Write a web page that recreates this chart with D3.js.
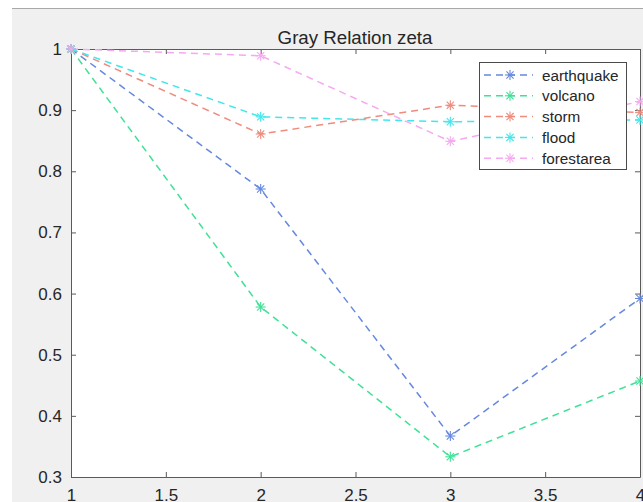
<!DOCTYPE html>
<html>
<head>
<meta charset="utf-8">
<script src="https://cdn.jsdelivr.net/npm/d3@7"></script>
<style>
  body { margin:0; background:#fff; }
  text { font-family: "Liberation Sans", Arial, sans-serif; fill:#262626; }
</style>
</head>
<body>
<div class="chart"></div>
<script>
// data
const xValues = [1, 2, 3, 4];
const seriesNames = ["earthquake", "volcano", "storm", "flood", "forestarea"];
const earthquake = [1, 0.771, 0.367, 0.592];
const volcano = [1, 0.578, 0.333, 0.457];
const storm = [1, 0.861, 0.908, 0.896];
const flood = [1, 0.889, 0.881, 0.884];
const forestarea = [1, 0.989, 0.849, 0.914];
const xTicks = [1, 1.5, 2, 2.5, 3, 3.5, 4];
const yTicks = [0.3, 0.4, 0.5, 0.6, 0.7, 0.8, 0.9, 1];

function draw(){
    const series = [earthquake, volcano, storm, flood, forestarea];
    const colors = ["#6688df", "#3fe196", "#ee8c7e", "#40e8ec", "#f6a8f1"];

    const margin = {top:49, left:71, right:3, bottom:25};
    const width = 643 - margin.left - margin.right,
        height = 502 - margin.top - margin.bottom;

    const root = d3.select('.chart').append('svg')
        .attr("width", 643)
        .attr("height", 502);

    // figure background
    root.append("rect")
        .attr("x", 12).attr("y", 8)
        .attr("width", 643 - 12).attr("height", 502 - 8)
        .attr("fill", "#f0f0f0");
    root.append("line")
        .attr("x1", 12).attr("x2", 643)
        .attr("y1", 8.5).attr("y2", 8.5)
        .attr("stroke", "#a8a8a8");

    const svg = root.append("g")
        .attr("transform", "translate(" + margin.left + "," + margin.top + ")");

    svg.append("rect")
        .attr("width", width).attr("height", height)
        .attr("fill", "#fff");

    const xScale = d3.scaleLinear()
        .domain([1, 4])
        .range([0, width]);

    const yScale = d3.scaleLinear()
        .domain([0.3, 1])
        .range([height, 0]);

    const fmt = d => d3.format("")(d);

    // axes with inside ticks, like matlab
    const xAxis = d3.axisBottom(xScale).tickValues(xTicks).tickFormat(fmt)
        .tickSizeInner(-5).tickSizeOuter(0).tickPadding(12);
    const yAxis = d3.axisLeft(yScale).tickValues(yTicks).tickFormat(fmt)
        .tickSizeInner(-5).tickSizeOuter(0).tickPadding(9);
    const xTop = d3.axisTop(xScale).tickValues(xTicks).tickFormat("")
        .tickSizeInner(-5).tickSizeOuter(0);
    const yRight = d3.axisRight(yScale).tickValues(yTicks).tickFormat("")
        .tickSizeInner(-5).tickSizeOuter(0);

    const axes = [
        svg.append("g").attr("class", "axis x-axis")
            .attr("transform", `translate(0, ${height})`).call(xAxis),
        svg.append("g").attr("class", "axis y-axis").call(yAxis),
        svg.append("g").attr("class", "axis").call(xTop),
        svg.append("g").attr("class", "axis")
            .attr("transform", `translate(${width},0)`).call(yRight)
    ];
    axes.forEach(a => {
        a.selectAll("path, line").attr("stroke", "#5a5a5a");
        a.selectAll("text").style("font-size", "17px").attr("fill", "#262626");
    });

    const line = d3.line()
        .x((d,i) => xScale(xValues[i]))
        .y(d => yScale(d));

    svg.selectAll(".series")
        .data(series)
        .enter()
        .append("path")
        .attr("class", "series")
        .attr("d", d => line(d))
        .attr("fill", "none")
        .attr("stroke", (d,i) => colors[i])
        .attr("stroke-width", 1.5)
        .attr("stroke-dasharray", "7,5");

    // asterisk markers
    function star(g, x, y, c){
        const r = 5, q = 3.6;
        const segs = [[-r,0,r,0],[0,-r,0,r],[-q,-q,q,q],[-q,q,q,-q]];
        segs.forEach(s => {
            g.append("line")
                .attr("x1", x + s[0]).attr("y1", y + s[1])
                .attr("x2", x + s[2]).attr("y2", y + s[3])
                .attr("stroke", c).attr("stroke-width", 1.1);
        });
    }
    const marks = svg.append("g");
    series.forEach((s, k) => {
        s.forEach((v, i) => star(marks, xScale(xValues[i]), yScale(v), colors[k]));
    });

    // title
    root.append("text")
        .attr("x", 355).attr("y", 44)
        .attr("text-anchor", "middle")
        .style("font-size", "18.7px")
        .text("Gray Relation zeta");

    // legend
    let legend = root.append("g").attr("id", "legend");
    legend.append("rect")
        .attr("x", 479.5).attr("y", 62.5)
        .attr("width", 147).attr("height", 107)
        .attr("fill", "#fff")
        .attr("stroke", "#4a4a4a");

    seriesNames.forEach((name, i) => {
        const y = 75 + i * 20.8;
        legend.append("line")
            .attr("x1", 484).attr("x2", 533)
            .attr("y1", y).attr("y2", y)
            .attr("stroke", colors[i])
            .attr("stroke-width", 1.5)
            .attr("stroke-dasharray", "7,5");
        star(legend, 510, y, colors[i]);
        legend.append("text")
            .attr("x", 542).attr("y", y + 5.5)
            .style("font-size", "15.3px")
            .text(name);
    });
}

draw();
</script>
</body>
</html>
